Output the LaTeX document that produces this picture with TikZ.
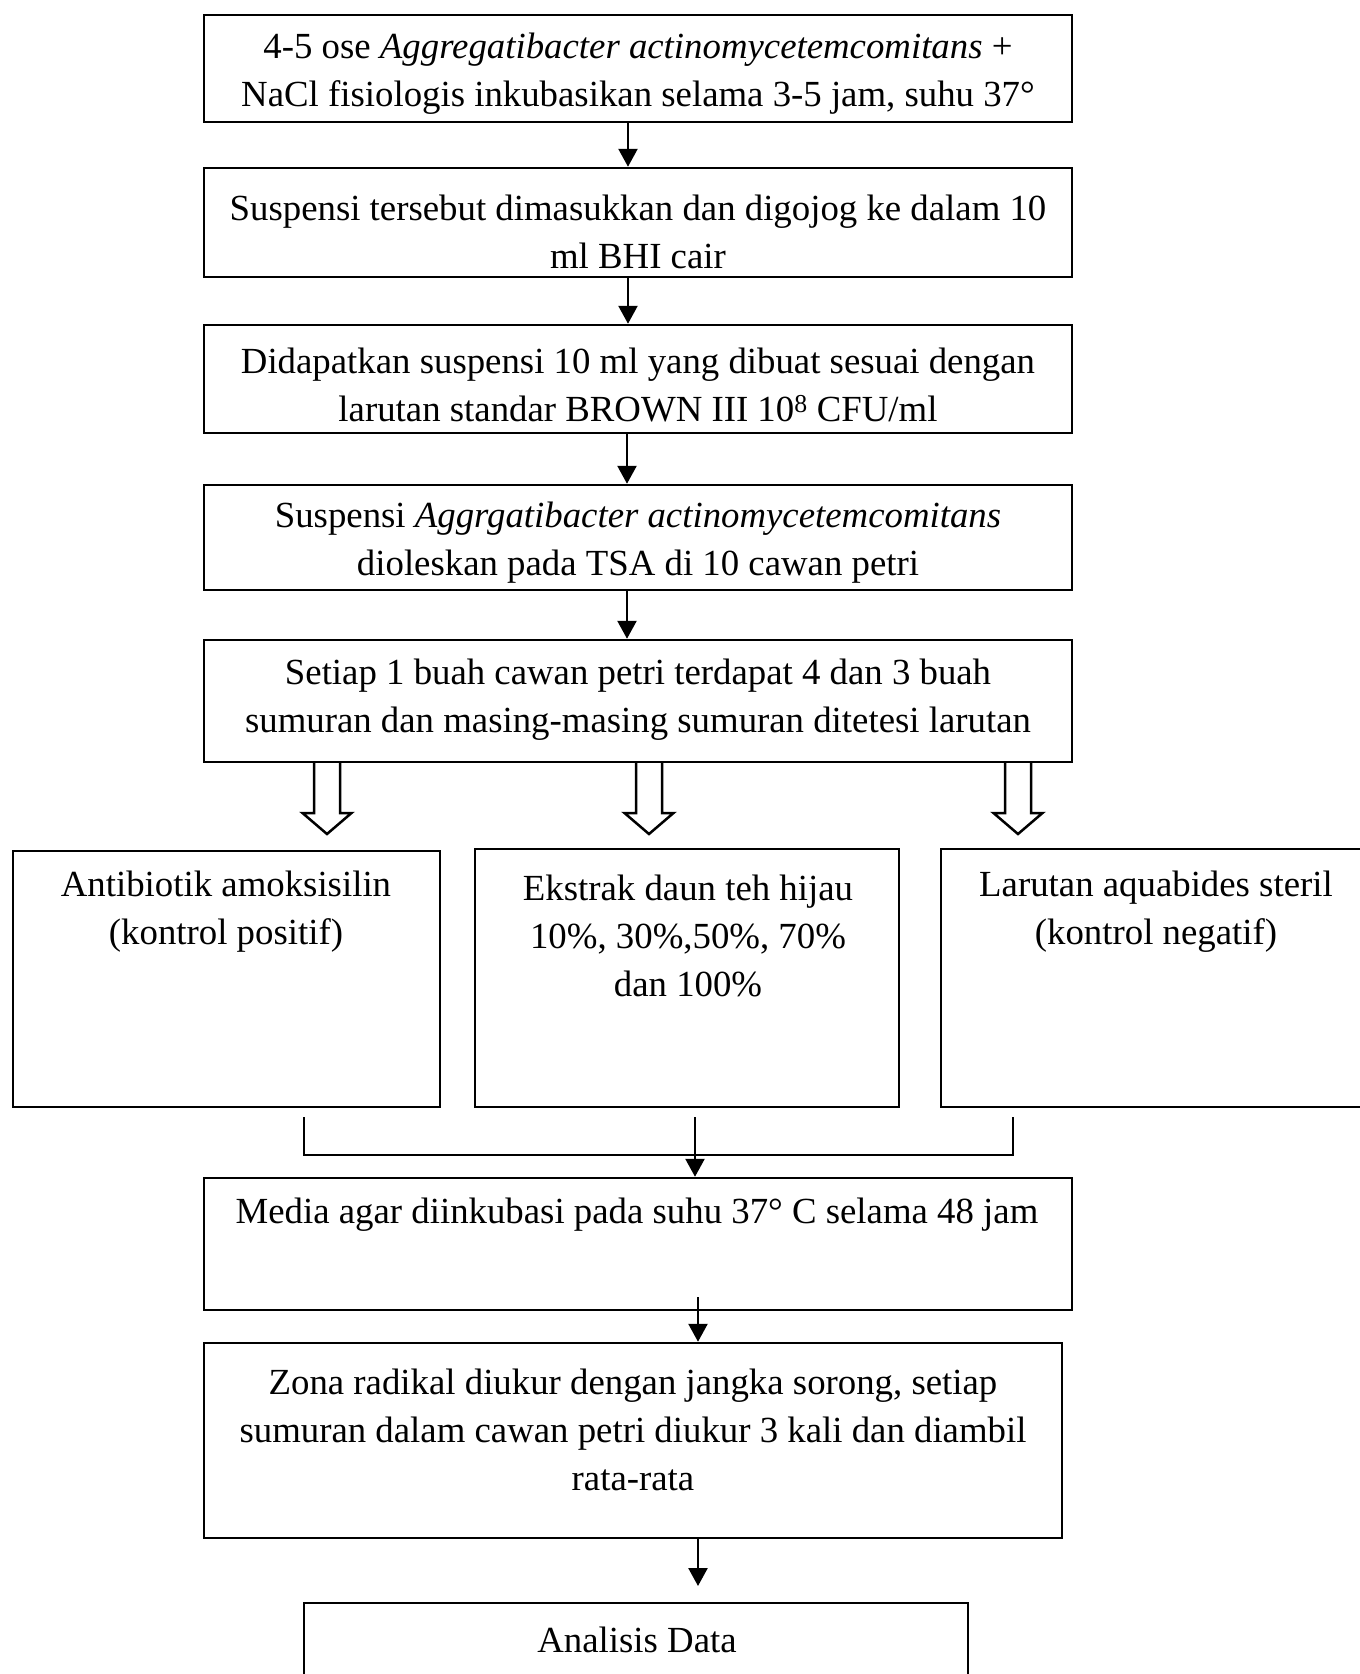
\documentclass[tikz,border=0pt]{standalone}
\usepackage{fontspec}
\setmainfont{Liberation Serif}
\usetikzlibrary{arrows.meta,calc}
\begin{document}
\begin{tikzpicture}[x=1pt,y=-1pt,
  box/.style={draw, line width=2.5pt, rectangle, inner sep=0pt},
  txt/.style={align=center, inner sep=0pt, font=\fontsize{36.8}{48}\selectfont},
  arr/.style={line width=2.5pt, -{Triangle[length=18pt,width=19pt]}},
  plain/.style={line width=2.5pt},
  hollow/.style={line width=2.5pt, line join=miter}]
\useasboundingbox (0,0) rectangle (1360,1674);
\fill[white] (0,0) rectangle (1360,1674);

% boxes
\node[box, minimum width=868pt, minimum height=107pt] (b1) at (638,68.5) {};
\node[box, minimum width=868pt, minimum height=109pt] (b2) at (638,222.5) {};
\node[box, minimum width=868pt, minimum height=108pt] (b3) at (638,379) {};
\node[box, minimum width=868pt, minimum height=105pt] (b4) at (638,537.5) {};
\node[box, minimum width=868pt, minimum height=122pt] (b5) at (638,701) {};
\node[box, minimum width=427pt, minimum height=256pt] (L) at (226.5,979) {};
\node[box, minimum width=424pt, minimum height=258pt] (M) at (687,978) {};
\node[box, minimum width=434pt, minimum height=258pt] (R) at (1158,978) {};
\node[box, minimum width=868pt, minimum height=132pt] (b7) at (638,1244) {};
\node[box, minimum width=858pt, minimum height=195pt] (b8) at (633,1440.5) {};
\node[box, minimum width=664pt, minimum height=117pt] (b9) at (636,1661.5) {};

% texts
\node[txt] (t1) at (638,74) {4-5 ose \textit{Aggregatibacter actinomycetemcomitans} +\\NaCl fisiologis inkubasikan selama 3-5 jam, suhu 37°};
\node[txt] (t2) at (638,231.5) {Suspensi tersebut dimasukkan dan digojog ke dalam 10\\ml BHI cair};
\node[txt] (t3) at (638,385.5) {Didapatkan suspensi 10 ml yang dibuat sesuai dengan\\larutan standar BROWN III 10\textsuperscript{8} CFU/ml};
\node[txt] (t4) at (638,542.5) {Suspensi \textit{Aggrgatibacter actinomycetemcomitans}\\dioleskan pada TSA di 10 cawan petri};
\node[txt] (t5) at (638,699.5) {Setiap 1 buah cawan petri terdapat 4 dan 3 buah\\sumuran dan masing-masing sumuran ditetesi larutan};
\node[txt] (tL) at (226,912) {Antibiotik amoksisilin\\(kontrol positif)};
\node[txt] (tM) at (688,936) {Ekstrak daun teh hijau\\10\%, 30\%,50\%, 70\%\\dan 100\%};
\node[txt] (tR) at (1156,912) {Larutan aquabides steril\\(kontrol negatif)};
\node[txt] (t7) at (637,1215) {Media agar diinkubasi pada suhu 37° C selama 48 jam};
\node[txt] (t8) at (633,1430) {Zona radikal diukur dengan jangka sorong, setiap\\sumuran dalam cawan petri diukur 3 kali dan diambil\\rata-rata};
\node[txt] (t9) at (637,1640) {Analisis Data};

% straight arrows
\draw[arr] ([xshift=-10pt]b1.south) -- ([xshift=-10pt]b2.north);
\draw[arr] ([xshift=-10pt]b2.south) -- ([xshift=-10pt]b3.north);
\draw[arr] ([xshift=-11pt]b3.south) -- ([xshift=-11pt]b4.north);
\draw[arr] ([xshift=-11pt]b4.south) -- ([xshift=-11pt]b5.north);

% hollow arrows
\coordinate (h1) at (327,762);
\coordinate (h2) at (649,762);
\coordinate (h3) at (1018,762);
\foreach \h in {h1,h2,h3}{
  \draw[hollow] ($(\h)+(-13,0)$) -- ++(0,51) -- ++(-11.5,0) -- ++(24.5,21) -- ++(24.5,-21) -- ++(-11.5,0) -- ++(0,-51);
}

% bracket
\coordinate (k1) at (304,1117);
\coordinate (k2) at (1013,1117);
\coordinate (k0) at (695,1117);
\draw[plain] (k1) -- ++(0,38) -| (k2);
\draw[arr] (k0) -- (k0 |- b7.north);

% lower arrows
\coordinate (a7) at (698,1297);
\draw[arr] (a7) -- (a7 |- b8.north);
\coordinate (a8) at (698,1586);
\draw[arr] (a8 |- b8.south) -- (a8);
\end{tikzpicture}
\end{document}
